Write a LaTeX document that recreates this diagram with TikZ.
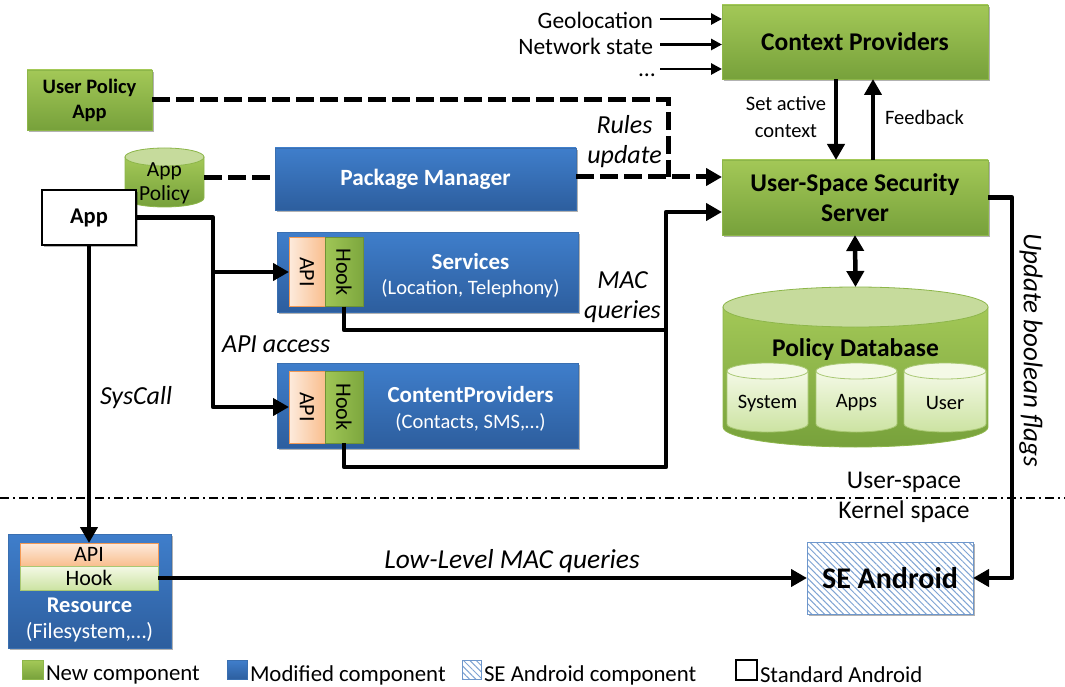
\documentclass[tikz,border=0pt]{standalone}
\usepackage{fontspec}
\setmainfont{Carlito}
\usetikzlibrary{arrows.meta,shadows,patterns.meta}
\definecolor{gtop}{HTML}{A3C857}
\definecolor{gbot}{HTML}{77A13B}
\definecolor{gline}{HTML}{8DB64A}
\definecolor{btop}{HTML}{3F7ECB}
\definecolor{bbot}{HTML}{2D5E9E}
\definecolor{bline}{HTML}{3A6FB0}
\definecolor{otop}{HTML}{FDEBDD}
\definecolor{obot}{HTML}{F9BE8E}
\definecolor{oline}{HTML}{F39A55}
\definecolor{htop}{HTML}{A0C656}
\definecolor{hbot}{HTML}{7DA73E}
\definecolor{hline}{HTML}{6F9236}
\definecolor{ltop}{HTML}{F4F9E6}
\definecolor{lbot}{HTML}{CCE3A2}
\definecolor{lline}{HTML}{A9C873}
\definecolor{dbtop}{HTML}{C6DB9C}
\definecolor{hatch}{HTML}{7FA4D3}
\definecolor{seline}{HTML}{6E97CC}
\tikzset{
 base/.style={inner sep=0pt, outer sep=0pt},
 shad/.style={drop shadow={shadow xshift=1.5pt,shadow yshift=-2pt,opacity=0.3,fill=black}},
 gbox/.style={base, draw=gline, line width=0.8pt, top color=gtop, bottom color=gbot, shad, align=center},
 bbox/.style={base, draw=bline, line width=0.8pt, top color=btop, bottom color=bbot, shad},
 apibox/.style={base, draw=oline, line width=0.8pt, left color=otop, right color=obot},
 hookbox/.style={base, draw=hline, line width=0.8pt, left color=htop, right color=hbot},
 ln/.style={line width=4.5pt, line join=round},
 arr/.style={ln, -{Triangle[length=16pt,width=17pt]}},
 dblarr/.style={ln, {Triangle[length=16pt,width=17pt]}-{Triangle[length=16pt,width=17pt]}},
 thinarr/.style={line width=2.8pt, -{Triangle[length=11pt,width=11pt]}},
 dsh/.style={line width=5pt, dash pattern=on 18pt off 6pt},
 dsharr/.style={dsh, -{Triangle[length=16pt,width=17pt]}},
 lbl/.style={base, font=\itshape\fontsize{26}{30}\selectfont, align=center},
 txt/.style={base, font=\fontsize{22}{26}\selectfont},
 legtxt/.style={base, anchor=west, font=\fontsize{22.8}{26}\selectfont},
 toptxt/.style={base, anchor=east, font=\fontsize{23.5}{26}\selectfont},
 hatchfill/.style={pattern={Lines[angle=-45,distance=4.5pt,line width=1pt]}, pattern color=hatch},
}
\newcommand\subcyl[4]{%
 \shadedraw[top color=ltop,bottom color=lbot,draw=lline,line width=0.8pt] (#1-#2,371) -- (#1-#2,424) arc[start angle=180,end angle=360,x radius=#2pt,y radius=8pt] -- (#1+#2,371) -- cycle;
 \filldraw[fill=ltop,draw=lline,line width=0.8pt] (#1,371) ellipse[x radius=#2pt,y radius=8pt];
 \node[base, font=\fontsize{20.5}{24}\selectfont] (#3) at (#1,403) {#4};
}
\begin{document}
\begin{tikzpicture}[x=1pt,y=-1pt]
\useasboundingbox (0,0) rectangle (1065,687);
\fill[white] (0,0) rectangle (1065,687);

% green components
\node[gbox, minimum width=125, minimum height=60, font=\bfseries\fontsize{20.5}{25}\selectfont] (upa) at (89.5,100) {User Policy\\App};
\node[gbox, minimum width=266, minimum height=74, font=\bfseries\fontsize{25.5}{30}\selectfont] (ctx) at (855,42) {Context Providers};
\node[gbox, minimum width=266, minimum height=75, font=\bfseries\fontsize{25.5}{30}\selectfont] (uss) at (855,197.5) {User-Space Security\\Server};

% App Policy cylinder
\shadedraw[top color=gtop,bottom color=gbot, draw=gline, line width=0.8pt] (125,157) -- (125,198) arc[start angle=180,end angle=360,x radius=39.5pt,y radius=9pt] -- (204,157) -- cycle;
\filldraw[fill=dbtop, draw=gline, line width=0.8pt] (164.5,157) ellipse[x radius=39.5pt, y radius=9pt];
\node[base, minimum width=79, minimum height=50, align=center, font=\fontsize{21.5}{24}\selectfont] (apol) at (164.5,183) {App\\Policy};

% App
\node[base, draw=black, line width=2pt, fill=white, minimum width=94, minimum height=55, font=\bfseries\fontsize{22.5}{27}\selectfont, shad] (app) at (89,217.5) {App};

% Package manager
\node[bbox, minimum width=301, minimum height=62, text=white, font=\bfseries\fontsize{23.3}{27}\selectfont] (pm) at (425.5,179) {Package Manager};

% Services
\node[bbox, minimum width=301, minimum height=80] (svc) at (427.5,272) {};
\node[apibox, minimum width=36, minimum height=69] (sapi) at (307,272) {};
\node[hookbox, minimum width=38, minimum height=69] (shook) at (344,272) {};
\node[txt, rotate=-90] (sapit) at (sapi.center) {API};
\node[txt, rotate=-90] (shookt) at (shook.center) {Hook};
\node[base, text=white, font=\bfseries\fontsize{23}{27}\selectfont] (svct) at (470.5,262) {Services};
\node[base, text=white, font=\fontsize{20.5}{24}\selectfont] (svcs) at (470.5,289) {(Location, Telephony)};

% Content providers
\node[bbox, minimum width=301, minimum height=85] (cp) at (427.5,405.5) {};
\node[apibox, minimum width=36, minimum height=72] (capi) at (307,407) {};
\node[hookbox, minimum width=38, minimum height=72] (chook) at (344,407) {};
\node[txt, rotate=-90] (capit) at (capi.center) {API};
\node[txt, rotate=-90] (chookt) at (chook.center) {Hook};
\node[base, text=white, font=\bfseries\fontsize{23}{27}\selectfont] (cpt) at (470.5,395) {ContentProviders};
\node[base, text=white, font=\fontsize{20.5}{24}\selectfont] (cps) at (470.5,422) {(Contacts, SMS,…)};

% Policy database
\shadedraw[top color=gtop, bottom color=gbot, draw=gline, line width=0.8pt] (723,307) -- (723,427) arc[start angle=180,end angle=360,x radius=132.5pt,y radius=20pt] -- (988,307) -- cycle;
\filldraw[fill=dbtop, draw=gline, line width=0.8pt] (855.5,307) ellipse[x radius=132.5pt,y radius=20pt];
\node[base, minimum width=265, minimum height=160] (pdb) at (855.5,367) {};
\node[base, font=\bfseries\fontsize{25.5}{30}\selectfont] (pdbt) at (855.5,350) {Policy Database};
\subcyl{767.5}{40.5}{dbsys}{System}
\subcyl{856.5}{40.5}{dbapps}{Apps}
\subcyl{945}{41}{dbuser}{User}

% Resource
\node[bbox, minimum width=163, minimum height=114] (res) at (89.5,591) {};
\node[base, draw=oline, line width=0.8pt, top color=otop, bottom color=obot, minimum width=138, minimum height=23, font=\fontsize{22}{26}\selectfont] (rapi) at (89,554.5) {API};
\node[base, draw=lline, line width=0.8pt, top color=ltop, bottom color=lbot, minimum width=138, minimum height=24, font=\fontsize{22}{26}\selectfont] (rhook) at (89,578) {Hook};
\node[base, text=white, font=\bfseries\fontsize{22.5}{27}\selectfont] (rest) at (89.5,605) {Resource};
\node[base, text=white, font=\fontsize{22}{26}\selectfont] (ress) at (89.5,632) {(Filesystem,…)};

% SE Android
\node[base, draw=seline, line width=1pt, shad, preaction={fill=white}, hatchfill, minimum width=166, minimum height=72, font=\bfseries\fontsize{30}{36}\selectfont] (se) at (890,578) {SE Android};

% context inputs
\node[toptxt] (geo) at (653,20) {Geolocation};
\node[toptxt] (net) at (653,46) {Network state};
\node[toptxt] (dots) at (655,75) {…};
\coordinate (d0) at (660,69);
\draw[thinarr] ([xshift=7pt,yshift=1pt]geo.east) -- ([yshift=1pt]geo.east -| ctx.west);
\draw[thinarr] ([xshift=7pt,yshift=1.5pt]net.east) -- ([yshift=1.5pt]net.east -| ctx.west);
\draw[thinarr] (d0) -- (d0 -| ctx.west);

% context <-> uss
\draw[arr] ([xshift=-19pt]ctx.south) -- ([xshift=-19pt]uss.north);
\draw[arr] ([xshift=18pt]uss.north) -- ([xshift=18pt]ctx.south);
\node[base, align=center, font=\fontsize{20.5}{27}\selectfont] (setl) at (786,117) {Set active\\context};
\node[base, font=\fontsize{20.5}{24}\selectfont] (fbl) at (924.5,117) {Feedback};

% dashed rules update
\coordinate (r1) at (668,100);
\coordinate (r2) at (668,177);
\draw[dsh] (upa.east) -- (r1) -- (r2);
\draw[dsharr] ([yshift=2pt]pm.east) -- ([yshift=20.5pt]uss.west);
\draw[dsh] ([yshift=5pt]apol.east) -- ([yshift=1pt]pm.west);

% API access
\coordinate (bus) at (213,0);
\draw[arr] (app.east) -| (bus |- capi.west) -- (capi.west);
\draw[arr] (bus |- sapi.west) -- (sapi.west);
\draw[arr] (app.south) -- (rapi.north);

% MAC queries
\coordinate (m1) at (666,330);
\coordinate (m2) at (666,467);
\draw[ln] (shook.south) |- (m1);
\draw[arr] (chook.south) |- (m2) |- ([yshift=-14.5pt]uss.west);

% uss <-> policy db
\draw[dblarr] (uss.south) -- (pdb.north);

% uss -> SE Android
\coordinate (ub) at (1012,0);
\draw[arr] (uss.east) -| (ub |- se.east) -- (se.east);

% resource -> SE Android
\draw[arr] (rhook.east) -- (se.west);

% labels
\node[lbl] (rul) at (624.5,142) {Rules\\update};
\node[lbl] (macl) at (622.5,297) {MAC\\queries};
\node[lbl, anchor=west] (apil) at (222,344) {API access};
\node[lbl, anchor=west] (sysl) at (100,398) {SysCall};
\node[lbl, font=\itshape\fontsize{27.4}{30}\selectfont] (lowl) at (512,561) {Low-Level MAC queries};
\node[lbl, rotate=-90, font=\itshape\fontsize{27}{30}\selectfont] (upl) at (1031,350) {Update boolean flags};

% user / kernel separator
\coordinate (k0) at (0,498);
\coordinate (k1) at (1065,498);
\draw[line width=1.5pt, dash pattern=on 9pt off 4pt on 2pt off 4pt] (k0) -- (k1);
\node[base, font=\fontsize{25.5}{30}\selectfont] (usl) at (904,482) {User-space};
\node[base, font=\fontsize{25.5}{30}\selectfont] (ksl) at (904,512) {Kernel space};

% legend
\node[base, draw=gline, top color=gtop, bottom color=gbot, minimum width=21, minimum height=19] (lg1) at (32.5,670) {};
\node[legtxt] (lt1) at (46,675) {New component};
\node[base, draw=bline, top color=btop, bottom color=bbot, minimum width=20, minimum height=19] (lg2) at (237.5,670) {};
\node[legtxt] (lt2) at (250,675) {Modified component};
\node[base, draw=seline, hatchfill, minimum width=19, minimum height=19] (lg3) at (471.5,670) {};
\node[legtxt] (lt3) at (484,675) {SE Android component};
\node[base, draw=black, line width=2pt, fill=white, minimum width=21, minimum height=20] (lg4) at (746.5,670) {};
\node[legtxt] (lt4) at (760,675) {Standard Android};
\end{tikzpicture}
\end{document}
